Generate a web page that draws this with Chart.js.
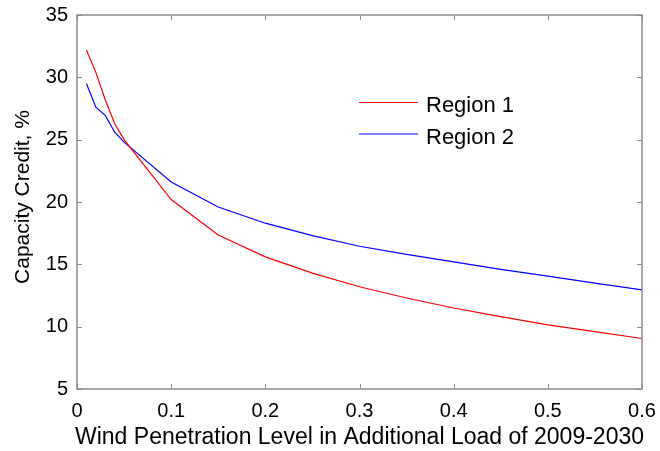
<!DOCTYPE html>
<html>
<head>
<meta charset="utf-8">
<script src="https://cdn.jsdelivr.net/npm/chart.js@4.4.1/dist/chart.umd.min.js"></script>
<style>
html,body{margin:0;padding:0;background:#fff;}
#wrap{width:660px;height:451px;}
</style>
</head>
<body>
<div id="wrap"><canvas id="c" width="660" height="451"></canvas></div>
<script>
const penetration = [0.01, 0.02, 0.03, 0.04, 0.05, 0.1, 0.15, 0.2, 0.25, 0.3, 0.35, 0.4, 0.45, 0.5, 0.55, 0.6];
const region1 = [32.2, 30.4, 28.2, 26.3, 25.0, 20.2, 17.35, 15.6, 14.3, 13.2, 12.3, 11.5, 10.8, 10.15, 9.6, 9.05];
const region2 = [29.5, 27.6, 26.95, 25.6, 24.8, 21.6, 19.6, 18.3, 17.3, 16.45, 15.8, 15.2, 14.6, 14.05, 13.5, 12.95];
const seriesNames = ["Region 1", "Region 2"];
const seriesColors = ["#ff0000", "#0000ff"];
const xTicks = [0, 0.1, 0.2, 0.3, 0.4, 0.5, 0.6];
const yTicks = [5, 10, 15, 20, 25, 30, 35];
const xTitle = "Wind Penetration Level in Additional Load of 2009-2030";
const yTitle = "Capacity Credit, %";

const FONT = "'Liberation Sans', Arial, sans-serif";

const toPts = (ys) => penetration.map((x, i) => ({x: x, y: ys[i]}));

const frame = {
  id: 'frame',
  afterDraw(chart) {
    const ctx = chart.ctx, a = chart.chartArea;
    const xs = chart.scales.x, ys = chart.scales.y;
    ctx.save();
    ctx.strokeStyle = '#8a8a8a';
    ctx.lineWidth = 1.5;
    ctx.strokeRect(a.left, a.top, a.right - a.left, a.bottom - a.top);
    ctx.lineWidth = 1;
    const tl = 5;
    ctx.beginPath();
    xTicks.forEach(v => {
      const p = Math.round(xs.getPixelForValue(v)) + 0.5;
      ctx.moveTo(p, a.bottom); ctx.lineTo(p, a.bottom - tl);
      ctx.moveTo(p, a.top); ctx.lineTo(p, a.top + tl);
    });
    yTicks.forEach(v => {
      const p = Math.round(ys.getPixelForValue(v)) + 0.5;
      ctx.moveTo(a.left, p); ctx.lineTo(a.left + tl, p);
      ctx.moveTo(a.right, p); ctx.lineTo(a.right - tl, p);
    });
    ctx.stroke();

    // axis titles
    ctx.fillStyle = '#000';
    ctx.textAlign = 'center';
    ctx.textBaseline = 'alphabetic';
    ctx.font = '23px ' + FONT;
    ctx.fillText(xTitle, (a.left + a.right) / 2, 444);
    ctx.font = '21px ' + FONT;
    ctx.save();
    ctx.translate(29, (a.top + a.bottom) / 2 - 5);
    ctx.rotate(-Math.PI / 2);
    ctx.fillText(yTitle, 0, 0);
    ctx.restore();

    // legend inside plot
    ctx.textAlign = 'left';
    ctx.font = '22px ' + FONT;
    chart.data.datasets.forEach((ds, i) => {
      const y = 102.5 + i * 31.5;
      ctx.strokeStyle = ds.borderColor;
      ctx.lineWidth = 1.2;
      ctx.beginPath();
      ctx.moveTo(359, y); ctx.lineTo(418, y);
      ctx.stroke();
      ctx.fillText(ds.label, 426, y + 9.5);
    });
    ctx.restore();
  }
};

new Chart(document.getElementById('c'), {
  type: 'line',
  data: {
    datasets: [
      {label: seriesNames[0], data: toPts(region1), borderColor: seriesColors[0], borderWidth: 1.2, pointRadius: 0, tension: 0, fill: false},
      {label: seriesNames[1], data: toPts(region2), borderColor: seriesColors[1], borderWidth: 1.2, pointRadius: 0, tension: 0, fill: false}
    ]
  },
  options: {
    responsive: false,
    animation: false,
    layout: {padding: {top: 15, right: 18, left: 0, bottom: 0}},
    plugins: {legend: {display: false}, tooltip: {enabled: false}},
    scales: {
      x: {
        type: 'linear', min: 0, max: 0.6,
        grid: {display: false, drawTicks: false},
        border: {display: false},
        afterBuildTicks: (s) => { s.ticks = xTicks.map(v => ({value: v})); },
        afterFit: (s) => { s.height = 62; s.paddingLeft = 0; s.paddingRight = 0; },
        ticks: {padding: 10, color: '#000', font: {family: FONT, size: 20}, maxRotation: 0,
                callback: (v) => String(v)}
      },
      y: {
        type: 'linear', min: 5, max: 35,
        grid: {display: false, drawTicks: false},
        border: {display: false},
        afterBuildTicks: (s) => { s.ticks = yTicks.map(v => ({value: v})); },
        afterFit: (s) => { s.width = 77; s.paddingTop = 0; s.paddingBottom = 0; },
        ticks: {padding: 9, color: '#000', font: {family: FONT, size: 20}, callback: (v) => String(v)}
      }
    }
  },
  plugins: [frame]
});
</script>
</body>
</html>
